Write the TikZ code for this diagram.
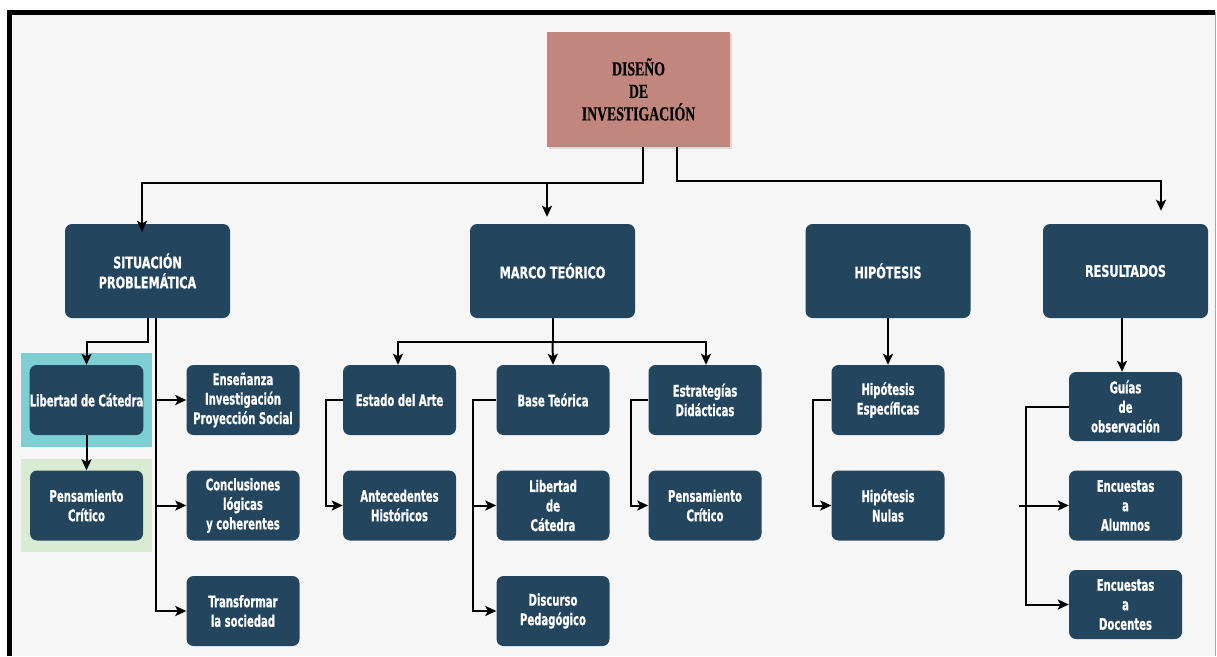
\documentclass[tikz,border=0pt]{standalone}
\usepackage{fontspec}
\usetikzlibrary{arrows.meta,shadows}
\newfontfamily\boxfont[FakeStretch=0.7,FakeBold=0.6]{DejaVu Sans Condensed Bold}
\newfontfamily\headfont[FakeStretch=0.78,FakeBold=0.6]{DejaVu Sans Condensed Bold}
\newfontfamily\titlefont[FakeStretch=0.69,FakeBold=0.5]{Liberation Serif}
\definecolor{boxblue}{HTML}{24455E}
\definecolor{rosebox}{HTML}{C1877E}
\definecolor{cyanmark}{HTML}{7ECFD4}
\definecolor{greenmark}{HTML}{D9EBD3}
\definecolor{sheet}{HTML}{F6F6F6}
\begin{document}
\begin{tikzpicture}[
		x=1pt,y=1pt,
		box/.style={fill=boxblue,rounded corners=7pt,text=white,align=center,inner sep=0pt,
				font=\boxfont\fontsize{16}{19.5}\selectfont},
		top box/.style={box,minimum width=165pt,minimum height=94pt,
				font=\headfont\fontsize{16}{20}\selectfont},
		sub box/.style={box,minimum width=113pt,minimum height=70pt},
		link/.style={line width=2pt,-{Stealth[length=11pt,width=10pt,inset=2.5pt]}},
		line/.style={line width=2pt}
	]
	\useasboundingbox (0,0) rectangle (1217,-656);
	\fill[white] (0,0) rectangle (1217,-656);
	\fill[sheet] (9,-12) rectangle (1215,-656);
	\draw[gray!70,line width=1pt] (1215,-12) -- (1215,-656);
	\draw[line width=5pt] (9.5,-656) -- (9.5,-12) -- (1215,-12);
	\fill[cyanmark] (21,-353) rectangle (152,-447);
	\fill[greenmark] (21,-459) rectangle (152,-552);

	\node[fill=rosebox,minimum width=183pt,minimum height=115pt,align=center,
		drop shadow={opacity=0.25,shadow xshift=2pt,shadow yshift=-2pt},
		font=\titlefont\bfseries\fontsize{20}{22.5}\selectfont] (dis) at (638.5,-89.5)
		{DISEÑO\\DE\\INVESTIGACIÓN};

	\node[top box] (sit) at (147.5,-271) {SITUACIÓN\\PROBLEMÁTICA};
	\node[top box] (mar) at (552.5,-271) {MARCO TEÓRICO};
	\node[top box] (hip) at (888,-271) {HIPÓTESIS};
	\node[top box] (res) at (1125.5,-271) {RESULTADOS};

	\node[sub box] (lib1) at (86.5,-400) {Libertad de Cátedra};
	\node[sub box] (pen1) at (86.5,-505.5) {Pensamiento\\Crítico};
	\node[sub box] (ens) at (243,-400) {Enseñanza\\Investigación\\Proyección Social};
	\node[sub box] (con) at (243,-505.5) {Conclusiones\\lógicas\\y coherentes};
	\node[sub box] (tra) at (243,-611) {Transformar\\la sociedad};

	\node[sub box] (est) at (399.5,-400) {Estado del Arte};
	\node[sub box] (ant) at (399.5,-505.5) {Antecedentes\\Históricos};
	\node[sub box] (bas) at (553,-400) {Base Teórica};
	\node[sub box] (lib2) at (553,-505.5) {Libertad\\de\\Cátedra};
	\node[sub box] (dis2) at (553,-611) {Discurso\\Pedagógico};
	\node[sub box] (estr) at (705,-400) {Estrategías\\Didácticas};
	\node[sub box] (pen2) at (705,-505.5) {Pensamiento\\Crítico};

	\node[sub box] (hesp) at (888,-400) {Hipótesis\\Específicas};
	\node[sub box] (hnul) at (888,-505.5) {Hipótesis\\Nulas};

	\node[sub box,minimum height=69pt] (gui) at (1125.5,-406.5) {Guías\\de\\observación};
	\node[sub box] (alu) at (1125.5,-505.5) {Encuestas\\a\\Alumnos};
	\node[sub box,minimum height=69pt] (doc) at (1125.5,-604.5) {Encuestas\\a\\Docentes};

	\coordinate (d1) at (643,-183);
	\coordinate (d2) at (677,-181);
	\draw[link] ([xshift=4.5pt]dis.south) -- (d1) -| ([xshift=-5.5pt,yshift=-8pt]sit.north);
	\draw[link] (d1 -| 547,0) -- ([xshift=-5.5pt,yshift=7pt]mar.north);
	\draw[link] ([xshift=38.5pt]dis.south) -- (d2) -| ([xshift=35.5pt,yshift=13pt]res.north);

	\coordinate (s1) at (148,-342);
	\coordinate (s2) at ([xshift=8.5pt]sit.south);
	\draw[link] ([xshift=.5pt]sit.south) -- (s1) -| (lib1.north);
	\draw[link] (lib1) -- (pen1);
	\draw[link] (s2) |- (tra.west);
	\draw[link] (s2 |- ens.west) -- (ens.west);
	\draw[link] (s2 |- con.west) -- (con.west);

	\coordinate (m1) at (552.5,-342);
	\draw[line] (mar.south) -- (m1);
	\draw[link] (m1) -| ([xshift=-1.5pt]est.north);
	\draw[link] (m1) -- (bas.north);
	\draw[link] (m1) -| ([xshift=1pt]estr.north);
	\draw[link] (est.west) -- ++(-17,0) |- (ant.west);
	\draw[link] (bas.west) -- ++(-23,0) |- (dis2.west);
	\draw[link] ([xshift=-23pt]bas.west) |- (lib2.west);
	\draw[link] (estr.west) -- ++(-17,0) |- (pen2.west);

	\draw[link] (hip.south) -- (hesp.north);
	\draw[link] (hesp.west) -- ++(-18,0) |- (hnul.west);

	\draw[link] ([xshift=-3.5pt]res.south) -- ([xshift=-3.5pt]gui.north);
	\draw[link] (gui.west) -- ++(-43,0) |- (doc.west);
	\draw[link] ([xshift=-50pt]alu.west) -- (alu.west);
\end{tikzpicture}
\end{document}
